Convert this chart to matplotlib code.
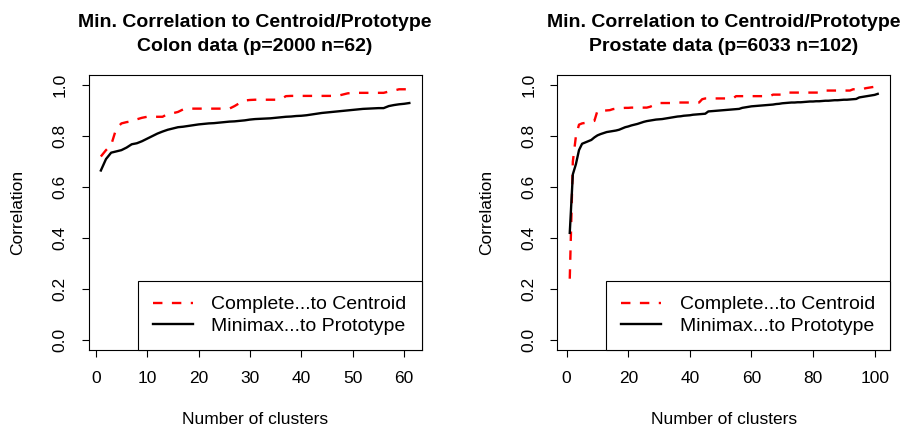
import numpy as np
import matplotlib
matplotlib.use("Agg")
import matplotlib.pyplot as plt

plt.rcParams["font.family"] = ["Liberation Sans", "DejaVu Sans"]

# Colon data (clusters 1..61)
colon_complete = [
    0.72, 0.745, 0.765, 0.83, 0.85, 0.855, 0.858, 0.866, 0.872, 0.876,
    0.876, 0.876, 0.876, 0.887, 0.89, 0.895, 0.905, 0.908, 0.908, 0.908,
    0.908, 0.908, 0.908, 0.908, 0.908, 0.908, 0.918, 0.93, 0.94, 0.942,
    0.943, 0.943, 0.943, 0.943, 0.943, 0.945, 0.957, 0.958, 0.958, 0.958,
    0.958, 0.958, 0.958, 0.958, 0.958, 0.958, 0.958, 0.963, 0.968, 0.97,
    0.97, 0.97, 0.97, 0.97, 0.97, 0.97, 0.975, 0.979, 0.984, 0.984,
    0.984,
]
colon_minimax = [
    0.665, 0.71, 0.735, 0.74, 0.745, 0.755, 0.768, 0.772, 0.78, 0.79,
    0.80, 0.81, 0.818, 0.825, 0.83, 0.835, 0.837, 0.84, 0.843, 0.846,
    0.848, 0.85, 0.851, 0.853, 0.855, 0.857, 0.858, 0.86, 0.862, 0.865,
    0.867, 0.868, 0.869, 0.87, 0.872, 0.874, 0.876, 0.877, 0.879, 0.88,
    0.882, 0.885, 0.888, 0.891, 0.893, 0.895, 0.897, 0.899, 0.901, 0.903,
    0.905, 0.907, 0.908, 0.909, 0.91, 0.91, 0.918, 0.922, 0.925, 0.927,
    0.93,
]

# Prostate data (clusters 1..101)
prostate_complete = [
    0.24, 0.70, 0.80, 0.845, 0.85, 0.852, 0.855, 0.858, 0.86, 0.90,
    0.90, 0.90, 0.901, 0.902, 0.906, 0.908, 0.909, 0.91, 0.911, 0.911,
    0.912, 0.912, 0.912, 0.912, 0.912, 0.912, 0.915, 0.92, 0.928, 0.93,
    0.93, 0.93, 0.93, 0.93, 0.93, 0.932, 0.932, 0.932, 0.932, 0.932,
    0.932, 0.932, 0.932, 0.945, 0.948, 0.948, 0.948, 0.948, 0.948, 0.948,
    0.948, 0.948, 0.948, 0.948, 0.957, 0.957, 0.957, 0.957, 0.957, 0.957,
    0.957, 0.957, 0.957, 0.957, 0.957, 0.957, 0.963, 0.963, 0.963, 0.963,
    0.963, 0.971, 0.971, 0.971, 0.971, 0.971, 0.971, 0.971, 0.971, 0.971,
    0.971, 0.971, 0.979, 0.979, 0.979, 0.979, 0.979, 0.979, 0.979, 0.979,
    0.979, 0.979, 0.984, 0.984, 0.984, 0.984, 0.988, 0.99, 0.992, 0.994,
    0.995,
]
prostate_minimax = [
    0.42, 0.65, 0.69, 0.745, 0.77, 0.775, 0.78, 0.785, 0.795, 0.803,
    0.808, 0.812, 0.816, 0.818, 0.82, 0.822, 0.825, 0.83, 0.835, 0.838,
    0.842, 0.845, 0.848, 0.852, 0.856, 0.859, 0.861, 0.863, 0.865, 0.866,
    0.867, 0.869, 0.871, 0.873, 0.875, 0.877, 0.878, 0.88, 0.881, 0.882,
    0.884, 0.885, 0.886, 0.887, 0.888, 0.897, 0.898, 0.899, 0.90, 0.901,
    0.902, 0.903, 0.904, 0.905, 0.906, 0.907, 0.911, 0.913, 0.915, 0.917,
    0.918, 0.919, 0.92, 0.921, 0.922, 0.923, 0.924, 0.926, 0.927, 0.929,
    0.93, 0.931, 0.932, 0.932, 0.933, 0.933, 0.934, 0.935, 0.936, 0.936,
    0.937, 0.937, 0.938, 0.939, 0.939, 0.94, 0.941, 0.941, 0.942, 0.943,
    0.943, 0.944, 0.945, 0.946, 0.952, 0.954, 0.956, 0.958, 0.96, 0.962,
    0.966,
]

panels = [
    ("Min. Correlation to Centroid/Prototype\nColon data (p=2000 n=62)",
     colon_complete, colon_minimax, [0, 10, 20, 30, 40, 50, 60]),
    ("Min. Correlation to Centroid/Prototype\nProstate data (p=6033 n=102)",
     prostate_complete, prostate_minimax, [0, 20, 40, 60, 80, 100]),
]
y_ticks = [0.0, 0.2, 0.4, 0.6, 0.8, 1.0]
legend_labels = ["Complete...to Centroid", "Minimax...to Prototype"]

fig = plt.figure(figsize=(9.07, 4.26), dpi=100)
positions = [[0.0976, 0.1784, 0.3673, 0.6455], [0.6146, 0.1784, 0.3667, 0.6455]]

for pos, (title, comp, mini, xt) in zip(positions, panels):
    ax = fig.add_axes(pos)
    x = np.arange(1, len(mini) + 1)
    ax.plot(x, comp, color="red", lw=1.7, linestyle=(0, (4, 4)), label=legend_labels[0])
    ax.plot(x, mini, color="black", lw=1.7, label=legend_labels[1])
    span = len(mini) - 1
    ax.set_xlim(1 - 0.04 * span, len(mini) + 0.04 * span)
    ax.set_ylim(-0.04, 1.04)
    ax.set_xticks(xt)
    ax.set_yticks(y_ticks)
    ax.set_yticklabels([f"{v:.1f}" for v in y_ticks])
    ax.tick_params(direction="out", length=5, width=0.8, labelsize=12.5, pad=10)
    ax.tick_params(axis="y", labelrotation=90)
    for lbl in ax.get_yticklabels():
        lbl.set_va("center")
    for s in ax.spines.values():
        s.set_linewidth(0.8)
    ax.set_xlabel("Number of clusters", fontsize=12.5)
    ax.set_ylabel("Correlation", fontsize=12.5)
    ax.xaxis.set_label_coords(0.5, -0.225)
    ax.yaxis.set_label_coords(-0.19, 0.5)
    ax.set_title(title, fontsize=14, fontweight="bold", pad=17, linespacing=1.6)
    leg = ax.legend(loc="lower right", borderaxespad=0, fancybox=False,
                    edgecolor="black", framealpha=1, fontsize=14,
                    handlelength=2.05, handletextpad=0.95, borderpad=0.78,
                    labelspacing=0.2)
    leg.get_frame().set_linewidth(0.8)

fig.savefig("out.png", dpi=100)
